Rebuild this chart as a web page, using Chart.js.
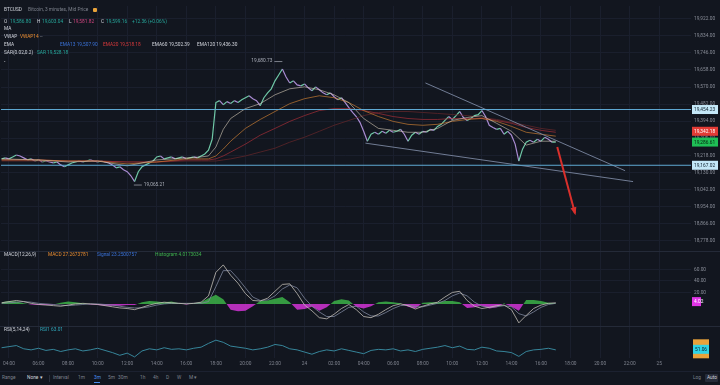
<!DOCTYPE html>
<html>
<head>
<meta charset="utf-8">
<script src="https://cdn.jsdelivr.net/npm/chart.js@4.4.1/dist/chart.umd.min.js"></script>
<style>
  html, body { margin:0; padding:0; background:#12161f; }
  body { width:720px; height:385px; overflow:hidden; position:relative; font-family:Roboto, "Liberation Sans", sans-serif; }
  #chartBox { position:absolute; left:0; top:0; width:720px; height:371px; }
  .t { position:absolute; font-size:4.8px; line-height:6px; height:6px; white-space:nowrap; color:#d1d4dc; }
  .dim { color:#7c808b; }
  .up { color:#26a69a; }
  .dn { color:#d0457f; }
  .or { color:#e88c30; }
  .bl { color:#3a72d8; }
  .rd { color:#d6393b; }
  .gr { color:#3fb24e; }
  .tl { color:#2fa8bb; }
  #bar { position:absolute; left:0; top:371px; width:720px; height:14px; border-top:1px solid #1c2130; box-sizing:border-box; }
</style>
</head>
<body>
<div id="chartBox"><canvas id="tvChart" width="720" height="371"></canvas></div>

<!-- legend texts -->
<div class="t" style="left:4px;top:7px">BTCUSD</div>
<div class="t dim" style="left:28px;top:7px">Bitcoin, 3 minutes, Mid Price</div>
<div style="position:absolute;left:93px;top:8px;width:4px;height:4px;background:#e9a33a;border-radius:1px"></div>

<div class="t" style="left:4px;top:19px">O</div>
<div class="t up" style="left:10px;top:19px">19,586.80</div>
<div class="t" style="left:37px;top:19px">H</div>
<div class="t up" style="left:42px;top:19px">19,603.04</div>
<div class="t" style="left:69px;top:19px">L</div>
<div class="t dn" style="left:73px;top:19px">19,581.82</div>
<div class="t" style="left:101px;top:19px">C</div>
<div class="t up" style="left:106px;top:19px">19,599.16</div>
<div class="t up" style="left:132px;top:19px">+12.36 (+0.06%)</div>

<div class="t" style="left:4px;top:26px">MA</div>
<div class="t" style="left:4px;top:34px">VWAP</div>
<div class="t or" style="left:20px;top:34px">VWAP14</div>
<div class="t dim" style="left:40px;top:34px">--</div>

<div class="t" style="left:4px;top:42px">EMA</div>
<div class="t bl" style="left:60px;top:42px">EMA13 19,507.90</div>
<div class="t rd" style="left:103px;top:42px">EMA20 19,518.18</div>
<div class="t" style="left:152px;top:42px">EMA60 19,502.39</div>
<div class="t" style="left:197px;top:42px">EMA120 19,436.30</div>

<div class="t" style="left:4px;top:50px">SAR(0.02,0.2)</div>
<div class="t up" style="left:37px;top:50px">SAR 19,528.18</div>
<div class="t" style="left:4px;top:59px">-</div>

<div class="t" style="left:4px;top:252px">MACD(12,26,9)</div>
<div class="t or" style="left:48px;top:252px">MACD 27.2673781</div>
<div class="t bl" style="left:97px;top:252px">Signal 23.2500757</div>
<div class="t gr" style="left:155px;top:252px">Histogram 4.0173034</div>

<div class="t" style="left:4px;top:327px">RSI(5,14,24)</div>
<div class="t tl" style="left:40px;top:327px">RSI1 63.01</div>

<div id="bar">
  <div class="t dim" style="left:2px;top:3px">Range</div>
  <div class="t" style="left:27px;top:3px">None ▾</div>
  <div style="position:absolute;left:49px;top:3px;width:1px;height:7px;background:#2a2f3c"></div>
  <div class="t dim" style="left:53px;top:3px">Interval</div>
  <div class="t dim" style="left:78px;top:3px">1m</div>
  <div class="t" style="left:94px;top:3px;color:#4a8ef0">3m</div>
  <div style="position:absolute;left:94px;top:10px;width:6px;height:1px;background:#4a8ef0"></div>
  <div class="t dim" style="left:108px;top:3px">5m</div>
  <div class="t dim" style="left:118px;top:3px">30m</div>
  <div class="t dim" style="left:140px;top:3px">1h</div>
  <div class="t dim" style="left:153px;top:3px">4h</div>
  <div class="t dim" style="left:166px;top:3px">D</div>
  <div class="t dim" style="left:177px;top:3px">W</div>
  <div class="t dim" style="left:189px;top:3px">M ▾</div>
  <div class="t dim" style="left:693px;top:3px">Log</div>
  <div style="position:absolute;left:705px;top:2px;width:13px;height:8px;background:#262b38;border-radius:1px"></div>
  <div class="t" style="left:707px;top:3px">Auto</div>
</div>

<script>
// time of first sample (hours from 00:00 of day one) and sample steps
const startHour = 3.5;
const priceStep = 0.25;
const indStep = 0.5;

// mid price, one value every 15 minutes
const closes = [
  19200,19205,19200,19210,19220,19215,19205,19195,19200,19189,
  19195,19184,19189,19184,19179,19184,19169,19159,19169,19179,
  19184,19189,19184,19189,19195,19189,19184,19189,19184,19179,
  19169,19154,19159,19144,19134,19113,19083,19134,19159,19169,
  19179,19189,19210,19215,19200,19205,19210,19200,19205,19210,
  19200,19205,19210,19205,19215,19225,19245,19301,19490,19500,
  19479,19495,19485,19500,19490,19505,19515,19525,19510,19500,
  19474,19515,19540,19561,19602,19632,19663,19622,19591,19602,
  19581,19576,19586,19566,19551,19571,19556,19540,19530,19540,
  19520,19505,19515,19490,19464,19439,19418,19388,19342,19291,
  19327,19337,19327,19342,19332,19347,19337,19342,19352,19327,
  19291,19322,19337,19327,19342,19337,19352,19347,19367,19378,
  19398,19418,19403,19423,19444,19413,19398,19408,19423,19428,
  19449,19418,19373,19362,19352,19357,19327,19342,19322,19276,
  19189,19250,19286,19296,19286,19301,19291,19311,19301,19286,19286
];

// moving averages, sampled at these hours
const emaHours = [3.5,6,8,10,12,14,16,17,17.5,18,18.5,19,20,21,22,23,24,25,26,27,28,29,30,31,32,33,34,35,36,37,38,39,40,41];
const ema13 = [19200,19194.5,19184,19189,19164,19194.5,19205,19210,19215,19261,19352,19408,19459,19484.5,19530,19561,19571,19556,19530,19490,19408,19357,19347,19337,19337,19357,19398,19413,19423,19383,19342,19271,19291,19291];
const ema20 = [19194.5,19194.5,19189,19189,19174,19184,19200,19200,19200,19215,19250.5,19291,19357,19403,19444,19484.5,19510,19525,19515,19490,19449,19418,19393,19378,19373,19378,19393,19403,19408,19393,19367.5,19337,19327,19317];
const ema60 = [19194.5,19194.5,19189,19189,19184,19184,19194.5,19194.5,19194.5,19200,19215,19235,19276,19322,19357,19393,19423,19449,19459,19459,19449,19434,19418,19408,19403,19403,19408,19408,19408,19398,19383,19362,19347,19337];
const ema120 = [19189,19189,19189,19189,19184,19184,19189,19189,19189,19189,19194.5,19200,19215,19235,19255,19286,19311.5,19342,19373,19398,19423,19439,19444,19444,19439,19434,19428.5,19423,19413,19403,19388,19373,19357,19347];

// indicators, one value every 30 minutes
const macdLine = [2,4,6,4,1,-1,-2,-3,-4,-2, 0,1,0,-1,-3,-5,-7,-8,-10,-6, -2,1,3,2,1,0,1,3,14,55, 68,50,36,18,6,5,10,22,34,35, 18,-2,-12,-24,-26,-18,-8,-1,-10,-22, -24,-18,-10,-3,0,-3,-9,-4,0,3, 12,20,22,6,-4,-8,-6,-3,-2,-10, -33,-20,-8,-2,1,2];
const signalLine = [1,2,3,4,3,1,0,-1,-2,-3, -2,-1,0,0,-1,-2,-4,-6,-7,-7, -5,-2,0,1,1,1,1,1,4,30, 58,58,44,28,12,6,7,14,26,33, 28,10,-4,-14,-22,-22,-14,-6,-4,-14, -21,-21,-15,-8,-3,-2,-5,-5,-2,1, 6,14,19,14,3,-4,-6,-5,-3,-5, -17,-21,-14,-6,-1,1];
const histogram = [3,5,4,1,-1,-2,-2,-1,2,4, 3,1,-1,-2,-3,-3,-3,-2,-2,3, 5,4,3,4,1,-1,1,3,10,16, 8,-10,-13,-12,-4,5,6,9,12,3, -10,-9,-5,-12,-6,5,8,6,-5,-8, -4,3,4,3,1,-5,-8,2,3,3, 5,5,3,-7,-6,-3,-8,-6,1,-5, -12,7,7,5,2,1];
const rsiLine = [54,56,58,52,50,53,49,51,47,50, 52,48,50,53,49,45,40,44,37,48, 52,50,54,51,52,50,53,55,62,68, 64,57,55,53,50,52,55,60,58,52, 50,46,42,47,50,48,52,49,46,43, 49,51,50,52,48,50,47,51,53,55, 58,54,57,51,50,55,53,48,47,45, 38,47,50,51,53,50];

// axis ticks
const priceTicks = [18778,18866,18954,19042,19130,19218,19306,19394,19482,19570,19658,19746,19834,19922];
const macdTicks = [20,40,60];
const hourTicks = [4,6,8,10,12,14,16,18,20,22,24,26,28,30,32,34,36,38,40,42,44,46,48];

// drawings on the price pane
const levels = [19454.23, 19167.02];
const upperTrend = [[32.18,19591],[45.69,19139]];
const lowerTrend = [[28.12,19281],[46.23,19083]];
const arrowPath = [[41.1,19261],[42.3,18920]];
const highMark = [22.5, 19680.73];
const lowMark = [12.45, 19065.21];

// price tags on the right axis
const axisTags = [
  ['y', 19454.23, '19,454.23', '#c4e8f8', '#10212e'],
  ['y', 19342.18, '19,342.18', '#e23b35', '#ffffff'],
  ['y', 19286.61, '19,286.61', '#1fbf56', '#06200f'],
  ['y', 19167.02, '19,167.02', '#c4e8f8', '#10212e'],
  ['yMacd', 4.02, '4.02', '#e135e6', '#ffffff']
];
const rsiTag = [51.06, '51.06'];

const xMin = 3.46, xMax = 50.15;
const fmt = v => v.toLocaleString('en-US', {minimumFractionDigits:2, maximumFractionDigits:2});
const pairs = arr => arr.map(p => ({x:p[0], y:p[1]}));
const byHour = (arr, hours) => arr.map((v,i) => ({x:hours[i], y:v}));
const byStep = (arr, step) => arr.map((v,i) => ({x:startHour + i*step, y:v}));

function line(data, color, axis, width) {
  return { data, borderColor:color, borderWidth:width === undefined ? 0.9 : width, yAxisID:axis, pointRadius:0, tension:0, fill:false };
}

const datasets = [
  line(pairs(arrowPath), '#d9302c', 'y', 2),
  ...levels.map(l => line([{x:xMin, y:l}, {x:xMax, y:l}], '#5fa9d3', 'y', 1)),
  line(pairs(upperTrend), '#7c88a2', 'y'),
  line(pairs(lowerTrend), '#7c88a2', 'y'),
  line(byHour(ema13, emaHours), 'rgba(214,204,186,0.75)', 'y', 0.8),
  line(byHour(ema20, emaHours), 'rgba(205,128,52,0.85)', 'y', 0.8),
  line(byHour(ema60, emaHours), 'rgba(170,48,56,0.85)', 'y', 0.8),
  line(byHour(ema120, emaHours), '#5e2629', 'y', 0.8),
  Object.assign(line(byStep(closes, priceStep), '#c3c0dc', 'y', 1.2), {
    segment: { borderColor: c => c.p1.parsed.y >= c.p0.parsed.y ? '#6fc7a6' : '#a98bd2' }
  }),
  line(byStep(macdLine, indStep), '#c4bfb8', 'yMacd', 0.8),
  line(byStep(signalLine, indStep), '#7e879d', 'yMacd', 0.8),
  Object.assign(line(byStep(histogram, indStep), 'rgba(0,0,0,0)', 'yMacd', 0), {
    fill: { target:{value:0}, above:'rgba(60,178,72,0.85)', below:'rgba(210,52,214,0.85)' }
  }),
  line(byStep(rsiLine, indStep), '#3b92a8', 'yRsi', 0.9)
];

const gridColor = '#1a1f2d';
const tickFont = { size:4.8, family:'Roboto' };

const overlay = {
  id: 'overlay',
  afterDatasetsDraw(chart) {
    const {ctx, scales} = chart;
    const x = scales.x, y = scales.y;
    // arrow head
    const x1 = x.getPixelForValue(arrowPath[0][0]), y1 = y.getPixelForValue(arrowPath[0][1]);
    const x2 = x.getPixelForValue(arrowPath[1][0]), y2 = y.getPixelForValue(arrowPath[1][1]);
    const a = Math.atan2(y2 - y1, x2 - x1);
    ctx.save();
    ctx.fillStyle = '#d9302c';
    ctx.beginPath();
    ctx.moveTo(x2 + 2*Math.cos(a), y2 + 2*Math.sin(a));
    ctx.lineTo(x2 - 6*Math.cos(a) + 3*Math.sin(a), y2 - 6*Math.sin(a) - 3*Math.cos(a));
    ctx.lineTo(x2 - 6*Math.cos(a) - 3*Math.sin(a), y2 - 6*Math.sin(a) + 3*Math.cos(a));
    ctx.closePath();
    ctx.fill();
    // high / low marks
    ctx.font = '4.8px Roboto';
    ctx.fillStyle = '#a9adb8';
    ctx.strokeStyle = '#a9adb8';
    ctx.lineWidth = 0.7;
    ctx.textBaseline = 'middle';
    const hx = x.getPixelForValue(highMark[0]), hy = y.getPixelForValue(highMark[1]);
    ctx.beginPath(); ctx.moveTo(hx - 8, hy - 4); ctx.lineTo(hx, hy - 4); ctx.stroke();
    ctx.textAlign = 'right';
    ctx.fillText(fmt(highMark[1]), hx - 10, hy - 5);
    const lx = x.getPixelForValue(lowMark[0]), ly = y.getPixelForValue(lowMark[1]);
    ctx.beginPath(); ctx.moveTo(lx, ly); ctx.lineTo(lx + 8, ly); ctx.stroke();
    ctx.textAlign = 'left';
    ctx.fillText(fmt(lowMark[1]), lx + 10, ly);
    // pane separators
    ctx.strokeStyle = '#242a38';
    ctx.lineWidth = 1;
    [scales.y.bottom, scales.yMacd.bottom].forEach(b => {
      ctx.beginPath(); ctx.moveTo(0, Math.round(b) + 0.5); ctx.lineTo(720, Math.round(b) + 0.5); ctx.stroke();
    });
    ctx.restore();
  },
  afterDraw(chart) {
    const {ctx, scales, chartArea} = chart;
    const left = chartArea.right + 1;
    ctx.save();
    ctx.font = '4.8px Roboto';
    ctx.textBaseline = 'middle';
    ctx.textAlign = 'left';
    axisTags.forEach(([axis, v, text, bg, fg]) => {
      const py = scales[axis].getPixelForValue(v);
      const w = axis === 'y' ? 26 : 9;
      ctx.fillStyle = bg;
      ctx.fillRect(left, py - 4.5, w, 9);
      ctx.fillStyle = fg;
      ctx.fillText(text, left + 2, py + 0.5);
    });
    const ry = scales.yRsi.getPixelForValue(rsiTag[0]);
    ctx.fillStyle = '#e9a23b';
    ctx.fillRect(left + 1, ry - 10, 16, 19);
    ctx.fillStyle = '#2fd3e6';
    ctx.fillRect(left + 1, ry - 4.5, 16, 9);
    ctx.fillStyle = '#0b1b22';
    ctx.fillText(rsiTag[1], left + 3, ry + 0.5);
    ctx.restore();
  }
};

const ctx = document.getElementById('tvChart').getContext('2d');
new Chart(ctx, {
  type: 'line',
  data: { datasets },
  options: {
    responsive: false,
    animation: false,
    events: [],
    layout: { padding: 0 },
    plugins: { legend: { display:false }, tooltip: { enabled:false } },
    scales: {
      x: {
        type: 'linear', position: 'bottom', min: xMin, max: xMax,
        afterBuildTicks: s => { s.ticks = hourTicks.map(v => ({value:v})); },
        afterFit: s => { s.height = 13; },
        ticks: {
          autoSkip: false, maxRotation: 0, padding: 3, color: '#7f838e', font: tickFont,
          callback: v => v % 24 === 0 ? String(23 + v / 24) : String(v % 24).padStart(2, '0') + ':00'
        },
        grid: { color: gridColor, drawTicks: false },
        border: { display: false }
      },
      y: {
        type: 'linear', position: 'right', stack: 'panes', stackWeight: 249,
        min: 18726.5, max: 19988.1,
        afterBuildTicks: s => { s.ticks = priceTicks.map(v => ({value:v})); },
        afterFit: s => { s.width = 29; },
        ticks: { padding: 3, color: '#8a8e99', font: tickFont, callback: v => fmt(v) },
        grid: { color: gridColor, drawTicks: false },
        border: { display: false }
      },
      yMacd: {
        type: 'linear', position: 'right', stack: 'panes', stackWeight: 76,
        min: -37.7, max: 92.6,
        afterBuildTicks: s => { s.ticks = macdTicks.map(v => ({value:v})); },
        afterFit: s => { s.width = 29; },
        ticks: { padding: 3, color: '#8a8e99', font: tickFont, callback: v => fmt(v) },
        grid: { color: gridColor, drawTicks: false },
        border: { display: false }
      },
      yRsi: {
        type: 'linear', position: 'right', stack: 'panes', stackWeight: 33,
        min: 35, max: 95,
        afterFit: s => { s.width = 29; },
        ticks: { display: false },
        grid: { display: false, drawTicks: false },
        border: { display: false }
      }
    }
  },
  plugins: [overlay]
});
</script>
</body>
</html>
